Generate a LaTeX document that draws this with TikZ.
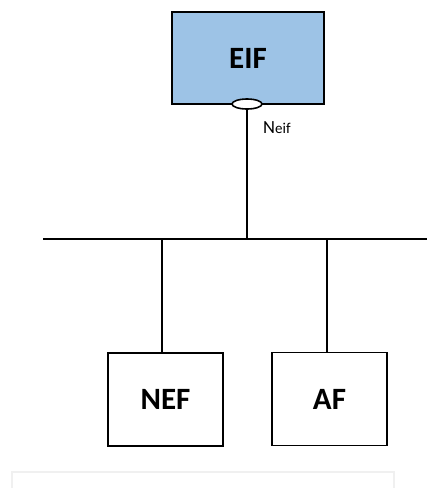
\documentclass[tikz,border=0pt]{standalone}
\usepackage{fontspec}
\setmainfont{Carlito}
\usetikzlibrary{shapes.geometric}
\definecolor{eifblue}{RGB}{157,195,230}
\tikzset{
    treenode/.style = {align=center, inner sep=0pt, text centered},
    blue_node/.style = {treenode, rectangle, draw=black, fill=eifblue, line width=1.8pt, minimum width=152pt, minimum height=92pt, font=\fontsize{31}{32}\selectfont\bfseries},
    white_node/.style = {treenode, rectangle, draw=black, fill=white, line width=1.8pt, minimum width=115pt, minimum height=93pt, font=\fontsize{31}{32}\selectfont\bfseries},
    port_node/.style = {treenode, ellipse, draw=black, fill=white, line width=1.6pt, minimum width=30pt, minimum height=10pt},
    wire/.style = {-, line width=1.8pt}
}

\begin{document}
\begin{tikzpicture}[x=1pt, y=-1pt]
    \useasboundingbox (0,0) rectangle (427,488);

    % boxes
    \node [blue_node] (eif) at (248,58) {EIF};
    \node [white_node] (nef) at (165.5,399.5) {NEF};
    \node [white_node] (af) at (329.5,399) {AF};
    \node [port_node] (port) at (247,104) {};
    \node [anchor=base west, inner sep=0pt] (neif) at (263,133.5)
        {\fontsize{18.5}{19}\selectfont N\fontsize{15}{15}\selectfont eif};

    % bus
    \coordinate (bus_l) at (43,239);
    \coordinate (bus_r) at (427,239);
    \coordinate (tap_eif) at (247,239);
    \coordinate (tap_nef) at (162,239);
    \coordinate (tap_af) at (327,239);
    \draw [wire] (bus_l) -- (bus_r);
    \draw [wire] (port.south) -- (tap_eif);
    \draw [wire] (tap_nef) -- (tap_nef |- nef.north);
    \draw [wire] (tap_af) -- (tap_af |- af.north);

    % faint frame at the foot
    \draw [black!6, line width=1.2pt] (12,472) rectangle (394,500);
\end{tikzpicture}
\end{document}
